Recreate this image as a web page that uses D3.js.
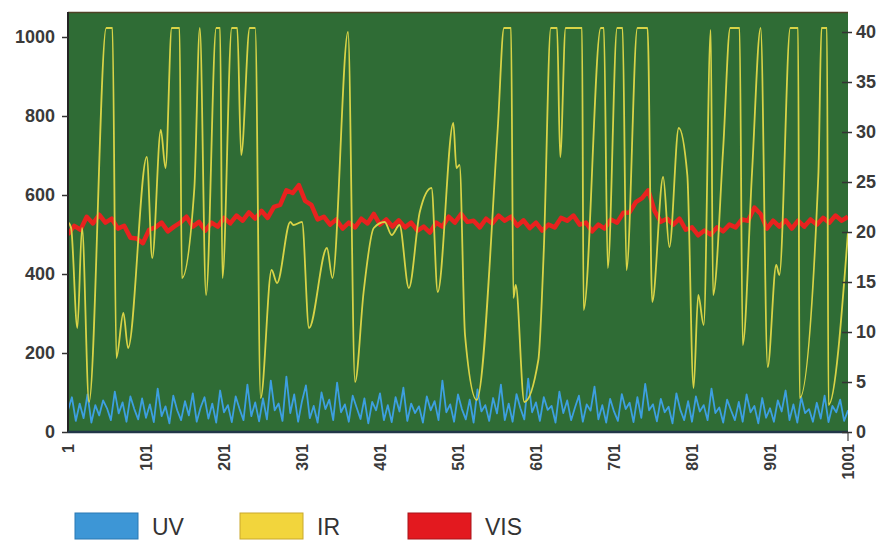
<!DOCTYPE html>
<html>
<head>
<meta charset="utf-8">
<script src="https://cdn.jsdelivr.net/npm/d3@7"></script>
<style>
  html, body { margin: 0; padding: 0; background: #ffffff; }
  svg { display: block; }
</style>
</head>
<body>
<svg id="chart" width="894" height="542"></svg>
<script>
// ---------- DATA ----------
const xTicks = [1, 101, 201, 301, 401, 501, 601, 701, 801, 901, 1001];
const leftTicks = [0, 200, 400, 600, 800, 1000];
const rightTicks = [0, 5, 10, 15, 20, 25, 30, 35, 40];
const seriesNames = ["UV", "IR", "VIS"];

// UV (left axis), sampled every 5 readings starting at 1
const uvValues = [
  55, 88, 28, 72, 35, 95, 24, 68, 42, 80,
  60, 30, 102, 47, 75, 26, 90, 58, 32, 85,
  36, 70, 25, 110, 40, 65, 22, 92, 55, 30,
  78, 42, 98, 26, 62, 88, 34, 72, 24, 105,
  50, 68, 25, 90, 58, 30, 120, 40, 75, 27,
  85, 32, 130, 55, 72, 28, 140, 48, 95, 26,
  78, 118, 35, 66, 24, 100, 58, 82, 30, 125,
  50, 70, 26, 92, 62, 33, 85, 22, 76, 55,
  98, 30, 68, 25, 88, 52, 112, 28, 72, 48,
  65, 24, 90, 55, 78, 30, 130, 50, 70, 26,
  95, 58, 32, 82, 24, 108, 52, 68, 28, 86,
  47, 120, 30, 72, 26, 96, 60, 32, 135, 50,
  75, 28, 88, 56, 66, 24, 102, 48, 80, 30,
  62, 92, 26, 70, 54, 115, 32, 68, 24, 84,
  52, 28, 96, 58, 74, 25, 88, 36, 122, 55,
  70, 27, 84, 50, 64, 22, 98, 56, 30, 78,
  26, 90, 52, 68, 30, 110, 48, 62, 24, 82,
  55, 30, 76, 26, 95, 50, 66, 22, 86, 36,
  60, 26, 80, 52, 105, 30, 70, 24, 88, 48,
  58, 26, 74, 34, 92, 25, 66, 50, 82, 28,
  55
];
const uvStep = 5;

// VIS (left axis), sampled every 8 readings starting at 1
const visValues = [
  500, 522, 512, 545, 528, 550, 530, 540, 515, 522,
  492, 490, 478, 512, 518, 530, 508, 520, 530, 545,
  520, 532, 510, 530, 520, 542, 528, 548, 535, 556,
  540, 560, 542, 570, 575, 612, 605, 625, 585, 575,
  538, 545, 525, 538, 515, 530, 518, 540, 528, 552,
  525, 538, 520, 536, 518, 530, 510, 520, 505, 530,
  520, 545, 530, 552, 532, 535, 518, 540, 528, 548,
  535, 545, 522, 536, 516, 530, 510, 525, 518, 542,
  535, 548, 525, 530, 508, 525, 515, 538, 530, 555,
  556, 582, 592, 612, 560, 532, 540, 525, 540, 512,
  518, 498, 510, 500, 518, 508, 525, 518, 538, 535,
  568, 552, 515, 535, 520, 536, 515, 535, 520, 538,
  525, 542, 530, 548, 535, 545
];
const visStep = 8;

// IR (right axis): reading index / value at the turning points of the trace
const irIndex = [
  1, 5, 13, 19, 28, 50, 58, 63, 72, 78,
  102, 109, 120, 126, 134, 144, 147, 163, 170, 178,
  191, 196, 199, 211, 218, 223, 234, 241, 248, 262,
  269, 286, 290, 301, 310, 333, 340, 360, 369, 380,
  393, 407, 416, 426, 438, 452, 467, 475, 495, 499,
  503, 510, 525, 552, 560, 569, 572, 575, 586, 604,
  611, 620, 628, 632, 639, 660, 662, 684, 688, 693,
  705, 712, 717, 731, 744, 750, 764, 772, 784, 795,
  803, 809, 816, 825, 828, 841, 850, 862, 866, 878,
  889, 898, 909, 913, 927, 937, 939, 963, 967, 974,
  976, 1001
];
const irValues = [
  21, 20.4, 10.4, 20.4, 3.0, 40.4, 40.4, 7.4, 11.9, 8.4,
  27.5, 17.4, 30.2, 26.4, 40.4, 40.4, 15.4, 24.4, 40.4, 13.7,
  40.4, 40.4, 15.4, 40.4, 40.4, 27.7, 40.4, 40.4, 3.4, 16.2,
  14.9, 21.0, 20.7, 21.0, 10.4, 18.4, 15.4, 40.0, 5.0, 14.0,
  20.4, 21.0, 19.7, 20.7, 14.4, 22.0, 24.4, 14.0, 30.9, 26.4,
  26.7, 9.7, 3.2, 30.4, 40.4, 40.4, 13.4, 14.7, 3.0, 7.2,
  18.2, 40.4, 40.4, 27.5, 40.4, 40.4, 12.2, 40.4, 40.4, 16.4,
  40.4, 40.4, 16.2, 40.4, 40.4, 13.0, 25.5, 18.5, 30.4, 25.7,
  4.4, 13.7, 10.7, 40.2, 13.7, 28.4, 40.4, 40.4, 8.7, 26.0,
  40.4, 6.5, 16.7, 15.7, 40.4, 40.4, 3.4, 25.7, 40.4, 40.4,
  2.7, 20.0
];

// ---------- LAYOUT ----------
const svg = d3.select("#chart");
const plot = { left: 68, right: 848, top: 12, bottom: 432 };

const x = d3.scaleLinear().domain([1, 1001]).range([plot.left, plot.right]);
const yL = d3.scaleLinear().domain([0, 1000]).range([plot.bottom, 37]);
const yR = d3.scaleLinear().domain([0, 40]).range([plot.bottom, 32]);

const colors = { UV: "#3d96d6", IR: "#f2d53c", VIS: "#e3191f" };
const lineColors = { UV: "#3d9fe0", IR: "#d8d347", VIS: "#e8221f" };

// background panel
svg.append("rect")
  .attr("x", plot.left).attr("y", plot.top)
  .attr("width", plot.right - plot.left).attr("height", plot.bottom - plot.top)
  .attr("fill", "#2f6c35");

svg.append("defs").append("clipPath").attr("id", "clip")
  .append("rect")
  .attr("x", plot.left).attr("y", plot.top)
  .attr("width", plot.right - plot.left).attr("height", plot.bottom - plot.top);

const g = svg.append("g").attr("clip-path", "url(#clip)");

// UV
const uvData = uvValues.map((v, i) => ({ i: 1 + i * uvStep, v }));
g.append("path")
  .datum(uvData)
  .attr("fill", "none")
  .attr("stroke", lineColors.UV)
  .attr("stroke-width", 1.8)
  .attr("stroke-linejoin", "round")
  .attr("d", d3.line().x(d => x(d.i)).y(d => yL(d.v)));

// VIS
const visData = visValues.map((v, i) => ({ i: 1 + i * visStep, v }));
g.append("path")
  .datum(visData)
  .attr("fill", "none")
  .attr("stroke", lineColors.VIS)
  .attr("stroke-width", 4.5)
  .attr("stroke-linejoin", "round")
  .attr("d", d3.line().x(d => x(d.i)).y(d => yL(d.v)));

// IR
const irData = irIndex.map((idx, k) => ({ i: idx, v: irValues[k] }));
g.append("path")
  .datum(irData)
  .attr("fill", "none")
  .attr("stroke", lineColors.IR)
  .attr("stroke-width", 1.8)
  .attr("stroke-linejoin", "round")
  .attr("d", d3.line().curve(d3.curveMonotoneX).x(d => x(d.i)).y(d => yR(d.v)));

// frame lines
svg.append("line")
  .attr("x1", plot.left).attr("x2", plot.right)
  .attr("y1", plot.top + 0.5).attr("y2", plot.top + 0.5)
  .attr("stroke", "#4e4226").attr("stroke-width", 1.5);
svg.append("line")
  .attr("x1", plot.left).attr("x2", plot.left)
  .attr("y1", plot.top).attr("y2", plot.bottom + 1)
  .attr("stroke", "#232323").attr("stroke-width", 2);
svg.append("line")
  .attr("x1", plot.left).attr("x2", plot.right)
  .attr("y1", plot.bottom).attr("y2", plot.bottom)
  .attr("stroke", "#223648").attr("stroke-width", 2.5);
svg.append("line")
  .attr("x1", plot.right).attr("x2", plot.right)
  .attr("y1", plot.bottom).attr("y2", plot.bottom + 9)
  .attr("stroke", "#444").attr("stroke-width", 1.2);

const fontFamily = "'Liberation Sans', Arial, sans-serif";

// left axis
const leftAxis = svg.append("g")
  .attr("transform", `translate(${plot.left},0)`)
  .call(d3.axisLeft(yL).tickValues(leftTicks).tickFormat(d3.format("d")).tickSize(6).tickPadding(7));
leftAxis.select(".domain").remove();
leftAxis.selectAll("line").attr("stroke", "#333").attr("stroke-width", 1.5);
leftAxis.selectAll("text")
  .attr("fill", "#3a3a3a")
  .style("font-family", fontFamily)
  .style("font-weight", "bold")
  .style("font-size", "18px");

// right axis
const rightAxis = svg.append("g")
  .attr("transform", `translate(${plot.right - 6},0)`)
  .call(d3.axisRight(yR).tickValues(rightTicks).tickFormat(d3.format("d")).tickSize(10).tickPadding(4));
rightAxis.select(".domain").remove();
rightAxis.selectAll("line").attr("stroke", "#333").attr("stroke-width", 1.5);
rightAxis.selectAll("text")
  .attr("fill", "#3a3a3a")
  .style("font-family", fontFamily)
  .style("font-weight", "bold")
  .style("font-size", "18px");

// bottom axis with rotated labels
const bottomAxis = svg.append("g")
  .attr("transform", `translate(0,${plot.bottom})`)
  .call(d3.axisBottom(x).tickValues(xTicks).tickFormat(d3.format("d")).tickSize(0));
bottomAxis.select(".domain").remove();
bottomAxis.selectAll("text")
  .attr("transform", "rotate(-90)")
  .attr("text-anchor", "end")
  .attr("x", -12)
  .attr("y", 0)
  .attr("dy", "0.35em")
  .attr("fill", "#3a3a3a")
  .style("font-family", fontFamily)
  .style("font-weight", "bold")
  .style("font-size", "16px");

// legend
const legendX = { UV: 75, IR: 240, VIS: 408 };
const borders = { UV: "#2a78b3", IR: "#c9a82c", VIS: "#a8141a" };
seriesNames.forEach(name => {
  const lg = svg.append("g").attr("transform", `translate(${legendX[name]},513)`);
  lg.append("rect")
    .attr("width", 63).attr("height", 26)
    .attr("fill", colors[name])
    .attr("stroke", borders[name]).attr("stroke-width", 1);
  lg.append("text")
    .attr("x", 77).attr("y", 22)
    .attr("fill", "#333")
    .style("font-family", fontFamily)
    .style("font-size", "23px")
    .text(name);
});
</script>
</body>
</html>
